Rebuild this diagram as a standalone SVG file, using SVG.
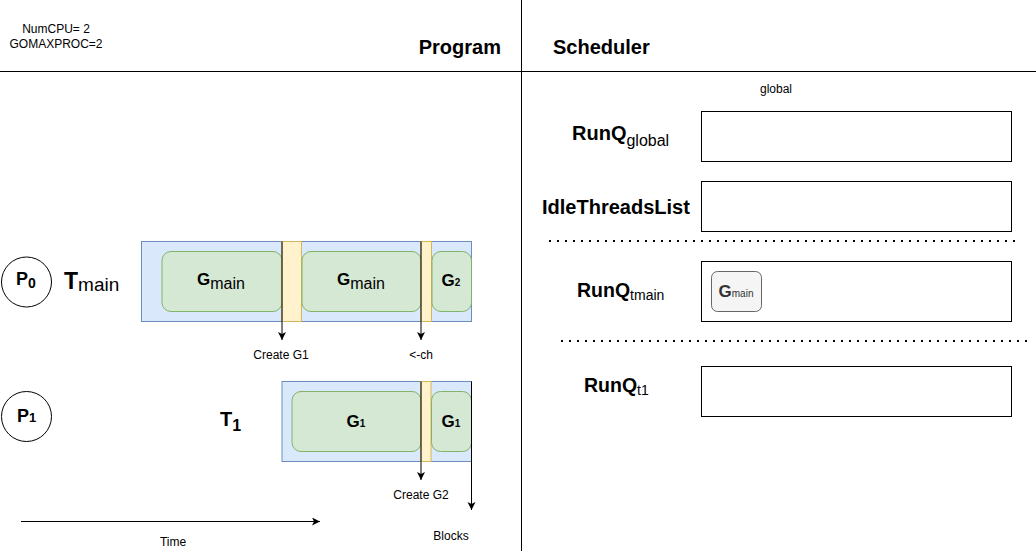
<svg xmlns="http://www.w3.org/2000/svg" width="1036" height="555" viewBox="0 0 1036 555">
<defs>
<marker id="ah" markerWidth="10" markerHeight="10" refX="8" refY="4" orient="auto" markerUnits="userSpaceOnUse">
<path d="M0,0 L8,4 L0,8 L2,4 Z" fill="#000"/>
</marker>
<style>
text{font-family:"Liberation Sans",Arial,sans-serif;fill:#000}
.b{font-weight:bold}
.sm{font-size:12px}
.thread{fill:#dae8fc;stroke:#6c8ebf;stroke-width:1}
.g{fill:#d5e8d4;stroke:#82b366;stroke-width:1}
.y{fill:#fff2cc;stroke:#d6b656;stroke-width:1}
.q{fill:#fff;stroke:#000;stroke-width:1}
.circ{fill:#fff;stroke:#000;stroke-width:1}
.conn{stroke:#000;stroke-width:1;fill:none}
.dot{stroke:#000;stroke-width:2;stroke-dasharray:2 6;fill:none}
</style>
</defs>
<rect width="1036" height="555" fill="#fff"/>

<g id="frame">
<line class="conn" x1="0" y1="71.5" x2="1036" y2="71.5"/>
<line class="conn" x1="521.5" y1="0" x2="521.5" y2="551"/>
<line class="dot" x1="549" y1="241" x2="1018" y2="241"/>
<line class="dot" x1="561" y1="341" x2="1030" y2="341"/>
</g>

<g id="header">
<text class="sm" x="56" y="33" text-anchor="middle">NumCPU= 2</text>
<text class="sm" x="56" y="48" text-anchor="middle">GOMAXPROC=2</text>
<text class="b" x="501" y="54" font-size="20" text-anchor="end">Program</text>
<text class="b" x="553" y="54" font-size="20">Scheduler</text>
</g>

<g id="p0">
<circle class="circ" cx="26.5" cy="282" r="25"/>
<text class="b" x="16" y="285" font-size="18">P<tspan font-size="14" dy="3">0</tspan></text>
</g>
<g id="tmain-label">
<text x="64" y="289" font-size="23" class="b">T<tspan font-size="19" font-weight="normal" dy="2">main</tspan></text>
</g>

<g id="tmain">
<rect class="thread" x="141.5" y="241.5" width="330" height="80"/>
<rect class="g" x="162" y="251.5" width="120" height="60" rx="9"/>
<rect class="y" x="282" y="241.5" width="19.5" height="80"/>
<rect class="g" x="302" y="251.5" width="119" height="60" rx="9"/>
<rect class="y" x="421" y="241.5" width="10.5" height="80"/>
<rect class="g" x="432" y="251.5" width="39.5" height="60" rx="9"/>
<text x="221" y="285" text-anchor="middle" class="b" font-size="17">G<tspan font-size="16" font-weight="normal" dy="4">main</tspan></text>
<text x="361" y="285" text-anchor="middle" class="b" font-size="17">G<tspan font-size="16" font-weight="normal" dy="4">main</tspan></text>
<text x="451" y="286" text-anchor="middle" class="b" font-size="17">G<tspan font-size="10">2</tspan></text>
</g>

<g id="p1">
<circle class="circ" cx="26.5" cy="416.5" r="25"/>
<text class="b" x="17" y="422" font-size="18">P<tspan font-size="13">1</tspan></text>
</g>
<g id="t1-label">
<text x="220" y="426" class="b" font-size="20">T<tspan font-size="16" dy="5">1</tspan></text>
</g>

<g id="t1">
<rect class="thread" x="282" y="381.5" width="189.5" height="80"/>
<rect class="g" x="292" y="391.5" width="129" height="60" rx="9"/>
<rect class="y" x="421" y="381.5" width="10" height="80"/>
<rect class="g" x="431.5" y="391.5" width="40" height="60" rx="9"/>
<text x="356" y="427" text-anchor="middle" class="b" font-size="17">G<tspan font-size="10">1</tspan></text>
<text x="451" y="427" text-anchor="middle" class="b" font-size="17">G<tspan font-size="10">1</tspan></text>
</g>

<g id="connectors">
<line class="conn" x1="282" y1="241.5" x2="282" y2="340" marker-end="url(#ah)"/>
<line class="conn" x1="421" y1="241.5" x2="421" y2="340" marker-end="url(#ah)"/>
<line class="conn" x1="421" y1="381.5" x2="421" y2="480" marker-end="url(#ah)"/>
<line class="conn" x1="471.5" y1="381.5" x2="471.5" y2="510" marker-end="url(#ah)"/>
<line class="conn" x1="21" y1="521.5" x2="320" y2="521.5" marker-end="url(#ah)"/>
</g>

<g id="labels">
<text class="sm" x="281" y="359" text-anchor="middle">Create G1</text>
<text class="sm" x="421" y="359" text-anchor="middle">&lt;-ch</text>
<text class="sm" x="421" y="499" text-anchor="middle">Create G2</text>
<text class="sm" x="451" y="540" text-anchor="middle">Blocks</text>
<text class="sm" x="173" y="546" text-anchor="middle">Time</text>
</g>

<g id="runq-global">
<text class="sm" x="776" y="93" text-anchor="middle">global</text>
<text x="572" y="140" class="b" font-size="20">RunQ<tspan font-size="16" font-weight="normal" dy="6">global</tspan></text>
<rect class="q" x="701.5" y="111.5" width="310" height="50"/>
</g>

<g id="idle-threads">
<text x="542" y="214" class="b" font-size="20">IdleThreadsList</text>
<rect class="q" x="701.5" y="181.5" width="310" height="50"/>
</g>

<g id="runq-tmain">
<text x="577" y="297" class="b" font-size="19.5">RunQ<tspan font-size="14" font-weight="normal" dy="3">tmain</tspan></text>
<rect class="q" x="701.5" y="261.5" width="310" height="60"/>
<rect x="711.5" y="271.5" width="50" height="40" rx="6" fill="#f5f5f5" stroke="#666"/>
<text x="736" y="297" text-anchor="middle" class="b" font-size="17" style="fill:#333">G<tspan font-size="10" font-weight="normal" style="fill:#333">main</tspan></text>
</g>

<g id="runq-t1">
<text x="584" y="392" class="b" font-size="19.5">RunQ<tspan font-size="14" font-weight="normal" dy="3">t1</tspan></text>
<rect class="q" x="701.5" y="366.5" width="310" height="50"/>
</g>
</svg>
